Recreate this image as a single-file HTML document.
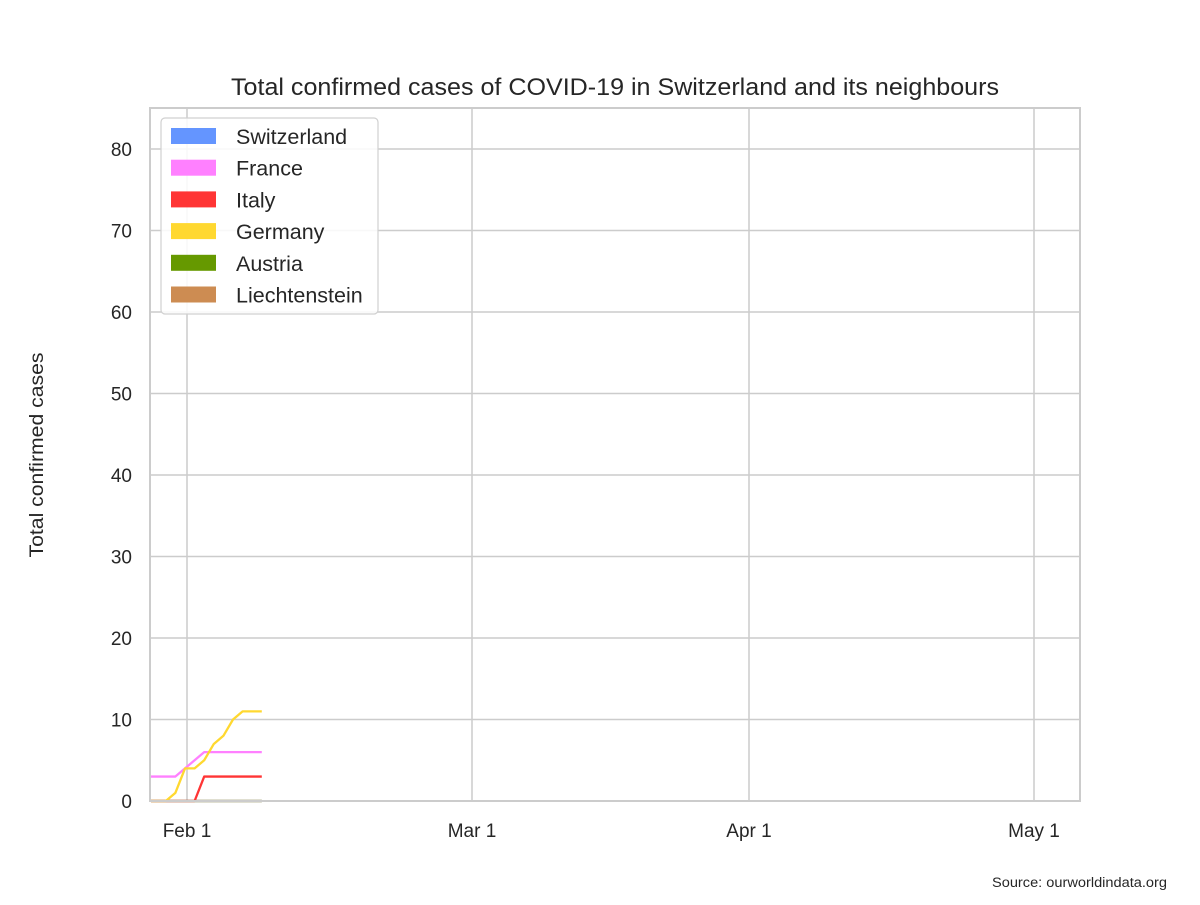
<!DOCTYPE html>
<html><head><meta charset="utf-8"><style>
body{margin:0;background:#fff;}
svg text{font-family:"Liberation Sans",Arial,sans-serif;fill:#262626;}
</style></head><body>
<svg id="chart" width="1200" height="900" xmlns="http://www.w3.org/2000/svg">
<rect width="1200" height="900" fill="#fff"/>
<g id="grid"></g>
<g id="series"></g>
<rect x="150" y="108" width="930" height="693" fill="none" stroke="#cccccc" stroke-width="2"/>
<g id="ticks"></g>
<text x="615" y="95" font-size="24" text-anchor="middle" textLength="768" lengthAdjust="spacingAndGlyphs">Total confirmed cases of COVID-19 in Switzerland and its neighbours</text>
<text transform="translate(43,455) rotate(-90)" font-size="19" text-anchor="middle" textLength="205" lengthAdjust="spacingAndGlyphs">Total confirmed cases</text>
<text x="1167" y="887" font-size="13.5" text-anchor="end" textLength="175" lengthAdjust="spacingAndGlyphs">Source: ourworldindata.org</text>
<g id="legend"></g>
</svg>
<script>
const days=[-4,-3,-2,-1,0,1,2,3,4,5,6,7,8];
const switzerland=[0,0,0,0,0,0,0,0,0,0,0,0,0];
const france=[3,3,3,3,4,5,6,6,6,6,6,6,6];
const italy=[0,0,0,0,0,0,3,3,3,3,3,3,3];
const germany=[0,0,0,1,4,4,5,7,8,10,11,11,11];
const austria=[0,0,0,0,0,0,0,0,0,0,0,0,0];
const liechtenstein=[0,0,0,0,0,0,0,0,0,0,0,0,0];
const yTicks=[0,10,20,30,40,50,60,70,80];
const xTickLabels=["Feb 1","Mar 1","Apr 1","May 1"];
const xTickDays=[0,29,60,90];
const NS="http://www.w3.org/2000/svg";
const anchorsD=[0,29,60,90], anchorsX=[187,472,749,1034];
function xs(d){
  let i=0; while(i<anchorsD.length-2 && d>anchorsD[i+1]) i++;
  return anchorsX[i]+(d-anchorsD[i])*(anchorsX[i+1]-anchorsX[i])/(anchorsD[i+1]-anchorsD[i]);
}
function xd(d){return d<=10?185+d*9.6:xs(d);}
function ys(v){return 801-v*8.15;}
function mk(t,a,p){const e=document.createElementNS(NS,t);for(const k in a)e.setAttribute(k,a[k]);(p||document.getElementById('chart')).appendChild(e);return e;}
const grid=document.getElementById('grid'), ticks=document.getElementById('ticks');
yTicks.forEach(v=>{
  const l=mk('line',{x1:150,x2:1080,y1:ys(v),y2:ys(v),stroke:'#cccccc','stroke-width':1.5},grid);
  
  
  const t=mk('text',{x:132,y:ys(v)+7,'font-size':19,'text-anchor':'end'},ticks);
  t.textContent=v;
  
  
});
xTickDays.forEach((d,i)=>{
  const l=mk('line',{x1:xs(d),x2:xs(d),y1:108,y2:801,stroke:'#cccccc','stroke-width':1.5},grid);
  
  
  const t=mk('text',{x:xs(d),y:837,'font-size':19,'text-anchor':'middle'},ticks);
  t.textContent=xTickLabels[i];
  
  
});
const series=[
 ["Switzerland",switzerland,"#6495ff"],
 ["France",france,"#ff80ff"],
 ["Italy",italy,"#ff3535"],
 ["Germany",germany,"#ffd830"],
 ["Austria",austria,"#669900"],
 ["Liechtenstein",liechtenstein,"#cd8c52"]
];
const sg=document.getElementById('series');
const order=[0,4,5,2,1,3];
order.forEach(i=>{
  const [name,vals,col]=series[i];
  const pts=days.map((d,j)=>Math.max(151,xd(d))+','+ys(vals[j])).join(' ');
  const p=mk('polyline',{points:pts,fill:'none',stroke:col,'stroke-width':2.3,'stroke-linejoin':'round'},sg);
  
  
});
const lg=document.getElementById('legend');
const box=mk('rect',{x:161,y:118,width:217,height:196,rx:4,fill:'#fff','fill-opacity':0.85,stroke:'#d0d0d0','stroke-width':1.2},lg);


series.forEach(([name,vals,col],i)=>{
  const y=128+i*31.7;
  const r=mk('rect',{x:171,y:y,width:45,height:16,fill:col},lg);
  
  
  const t=mk('text',{x:236,y:y+16,'font-size':21.5},lg);
  t.textContent=name;
  
  
});
</script>
</body></html>
